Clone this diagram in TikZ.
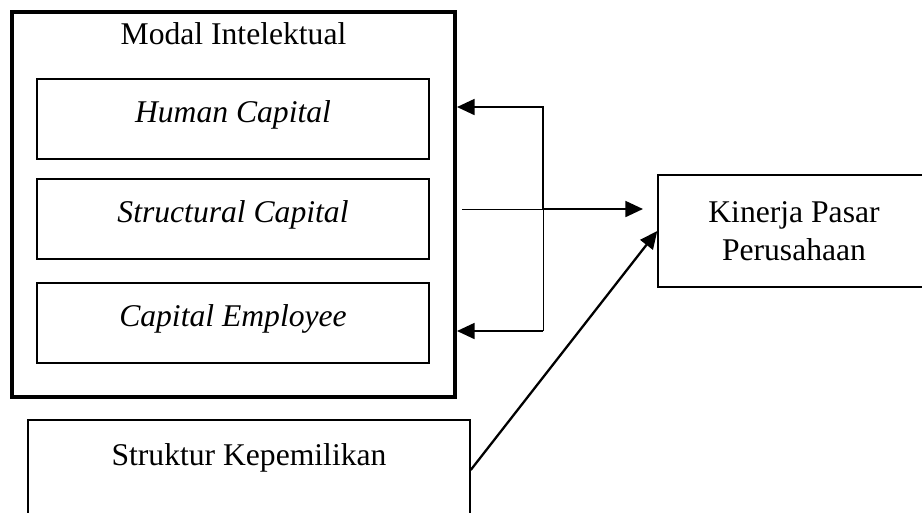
\documentclass[tikz,border=0pt]{standalone}
\usepackage{fontspec}
\setmainfont{Liberation Serif}
\usetikzlibrary{arrows.meta,positioning}

\begin{document}
\begin{tikzpicture}[
        x=0.02cm, y=-0.02cm,
        every node/.style={align=center, inner sep=0pt, font=\fontsize{18}{21.5}\selectfont},
        framebox/.style={draw, line width=0.85pt, minimum width=7.84cm, minimum height=1.6cm, text height=14pt, text depth=10pt},
        bigframe/.style={draw, line width=2.3pt, minimum width=8.86cm, minimum height=7.7cm},
        link/.style={line width=1.3pt},
        thinlink/.style={line width=0.55pt},
        tip/.style={-{Triangle[length=10pt, width=9pt]}}
    ]
    \useasboundingbox (0,0) rectangle (922,512);

    % Nodes
    \node[bigframe] (modal) at (233.5,204.5) {};
    \node (title) at (233.5,34) {Modal Intelektual};
    \node[framebox] (human) at (233,119) {\textit{Human Capital}};
    \node[framebox] (structural) at (233,219) {\textit{Structural Capital}};
    \node[framebox] (employee) at (233,323) {\textit{Capital Employee}};

    \node[draw, line width=0.85pt, minimum width=5.44cm, minimum height=2.24cm] (kinerja) at (794,231) {Kinerja Pasar\\Perusahaan};
    \node[draw, line width=0.85pt, minimum width=8.84cm, minimum height=2cm, text height=12pt, text depth=17pt] (struktur) at (249,470) {Struktur Kepemilikan};

    % Connectors
    \coordinate (src) at (462,209);
    \coordinate (split) at (543,209);
    \coordinate (jt) at (543,107);
    \coordinate (jb) at (543,331);
    \coordinate (goal) at (643,209);

    \draw[thinlink] (src) -- (split);
    \draw[link, tip] (split) -- (goal);
    \draw[link, tip] (split) -- (jt) -- (jt -| modal.east);
    \draw[thinlink] (split) -- (jb);
    \draw[link, tip] (jb) -- (jb -| modal.east);
    \draw[link, tip] (struktur.east) -- (kinerja.west);

\end{tikzpicture}
\end{document}
